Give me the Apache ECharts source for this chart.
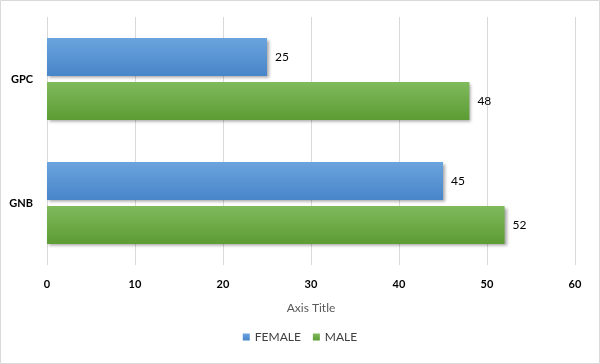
<!DOCTYPE html>
<html><head><meta charset="utf-8">
<script src="https://cdn.jsdelivr.net/npm/echarts@6/dist/echarts.min.js"></script>
<style>html,body{margin:0;padding:0;background:#fff}#c{width:600px;height:364px}</style>
</head><body><div id="c"></div>
<script>
const categories = ['GNB', 'GPC'];
const female = [45, 25];
const male = [52, 48];
const xTicks = { min: 0, max: 60, interval: 10 };

const chart = echarts.init(document.getElementById('c'));
const font = 'Lato, "Open Sans", sans-serif';
const grad = (a, b) => new echarts.graphic.LinearGradient(0, 0, 0, 1, [{offset: 0, color: a}, {offset: 1, color: b}]);
const barStyle = {shadowBlur: 3, shadowOffsetX: 2, shadowOffsetY: 2, shadowColor: 'rgba(0,0,0,0.35)'};
chart.setOption({
  animation: false,
  textStyle: {fontFamily: font},
  graphic: [{type: 'rect', shape: {x: 0.5, y: 0.5, width: 599, height: 363}, style: {fill: 'none', stroke: '#d9d9d9', lineWidth: 1}}],
  grid: {left: 47, right: 25, top: 17, bottom: 99, containLabel: false},
  legend: {
    data: ['FEMALE', 'MALE'], bottom: 16, left: 'center', itemWidth: 7, itemHeight: 7, itemGap: 12,
    icon: 'rect', textStyle: {fontFamily: font, fontSize: 12, color: '#404040'}
  },
  xAxis: {
    type: 'value', min: xTicks.min, max: xTicks.max, interval: xTicks.interval,
    name: 'Axis Title', nameLocation: 'middle', nameGap: 37,
    nameTextStyle: {fontFamily: font, fontSize: 12, color: '#595959'},
    axisLine: {show: false}, axisTick: {show: false},
    axisLabel: {fontFamily: font, fontSize: 11, fontWeight: 'bold', color: '#000', margin: 14},
    splitLine: {show: true, lineStyle: {color: '#d9d9d9', width: 1}}
  },
  yAxis: {
    type: 'category', data: categories,
    axisLine: {show: false}, axisTick: {show: false},
    axisLabel: {fontFamily: font, fontSize: 11, fontWeight: 'bold', color: '#000', margin: 14}
  },
  series: [
    {name: 'FEMALE', type: 'bar', data: female, barWidth: 38, barGap: '16%',
     itemStyle: Object.assign({color: grad('#6ba4dd', '#4885c9')}, barStyle),
     label: {show: true, position: 'right', distance: 8, fontFamily: font, fontSize: 12, color: '#000'}},
    {name: 'MALE', type: 'bar', data: male, barWidth: 38, barGap: '16%',
     itemStyle: Object.assign({color: grad('#7fba5c', '#5c9c33')}, barStyle),
     label: {show: true, position: 'right', distance: 8, fontFamily: font, fontSize: 12, color: '#000'}}
  ]
});
</script></body></html>
